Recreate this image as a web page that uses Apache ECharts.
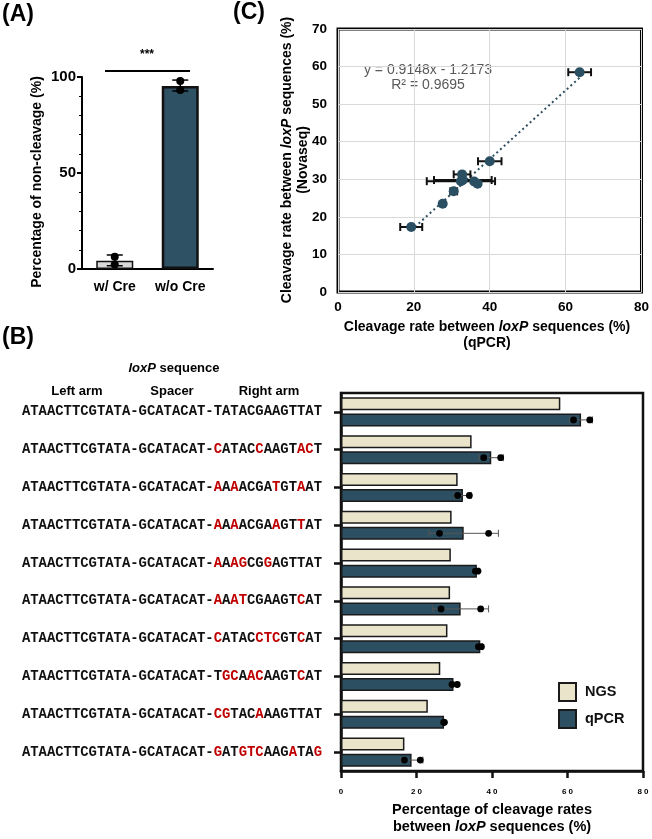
<!DOCTYPE html>
<html><head><meta charset="utf-8">
<script src="https://cdn.jsdelivr.net/npm/echarts@6/dist/echarts.min.js"></script>
<style>html,body{margin:0;padding:0;background:#fff}#c{width:652px;height:839px}</style>
</head><body><div id="c"></div>
<script>
// ---------- Panel A ----------
const aCategories = ['w/ Cre', 'w/o Cre'];
const aMeans = [4.3, 95.3];
const aRep1 = [6.4, 97.9];
const aRep2 = [2.4, 93.2];
const aErrLow = [1.7, 92.7];
const aErrHigh = [7.3, 98.4];

// ---------- Panel C ----------
const cQpcr = [63.7, 40.0, 32.7, 32.4, 35.9, 32.9, 36.8, 30.5, 27.6, 19.3];
const cNgs  = [58.5, 34.8, 31.3, 29.5, 29.4, 29.8, 28.8, 26.8, 23.5, 17.3];
const cXErr = [3.0, 3.1, 2.2, 9.0, 0.4, 7.6, 0.4, 0.9, 0.3, 2.9];
const fitSlope = 0.9148, fitIntercept = -1.2173, fitR2 = 0.9695;

// ---------- Panel B ----------
const leftArm = 'ATAACTTCGTATA';
const spacer = 'GCATACAT';
const rightArms = ['TATACGAAGTTAT','CATACCAAGTACT','AAAACGATGTAAT','AAAACGAAGTTAT','AAAGCGGAGTTAT',
                   'AAATCGAAGTCAT','CATACCTCGTCAT','TGCAACAAGTCAT','CGTACAAAGTTAT','GATGTCAAGATAG'];
const redPositions = [[],[0,5,10,11],[0,2,7,10],[0,2,7,10],[0,2,3,6],[0,2,3,10],[0,5,6,7,10],[1,2,4,5,10],[0,1,5],[0,3,4,5,9,12]];
const ngsValues  = [58.1, 34.6, 30.9, 29.3, 29.1, 28.9, 28.2, 26.3, 23.0, 16.8];
const qpcrValues = [63.6, 39.8, 32.3, 32.5, 36.0, 31.7, 36.9, 29.8, 27.3, 18.7];
const qpcrRep1   = [61.6, 37.8, 30.9, 26.1, 36.3, 26.5, 37.2, 30.8, 27.4, 16.8];
const qpcrRep2   = [65.9, 42.3, 34.0, 39.1, 35.6, 37.0, 36.4, 29.4, 27.2, 21.0];
const qpcrSd     = [3.0, 3.2, 2.2, 9.2, 0.5, 7.4, 0.6, 1.0, 0.1, 3.0];
const bCategories = rightArms.map(r => leftArm + '-' + spacer + '-' + r);

const SANS = '"Liberation Sans", Arial, sans-serif';
const MONO = '"Liberation Mono", "Courier New", monospace';
const TEAL = '#2D4F62';

function seqLabel(v, idx) {
  const arm = rightArms[idx], red = redPositions[idx];
  let out = '{n|' + leftArm + '-' + spacer + '-';
  let cur = 'n';
  for (let i = 0; i < arm.length; i++) {
    const s = red.includes(i) ? 'r' : 'n';
    if (s !== cur) { out += '}{' + s + '|'; cur = s; }
    out += arm[i];
  }
  return out + '}';
}

const chart = echarts.init(document.getElementById('c'), null, {renderer: 'canvas'});

const BAR_OFF = 8; // pixel offset of qPCR bar center from category center

const option = {
  animation: false,
  backgroundColor: '#fff',
  textStyle: {fontFamily: SANS},
  legend: {
    data: ['NGS', 'qPCR'], orient: 'vertical', left: 553, top: 677,
    itemWidth: 17, itemHeight: 18, itemGap: 7, icon: 'rect',
    textStyle: {fontFamily: SANS, fontWeight: 'bold', fontSize: 14.5, color: '#111', padding: [0, 0, 0, 4]}
  },
  grid: [
    {left: 82, top: 77, width: 131, height: 192},
    {left: 338, top: 29, width: 307, height: 263, show: true, borderColor: '#000', borderWidth: 3},
    {left: 341, top: 393, width: 302, height: 378, show: true, borderColor: '#111', borderWidth: 2.5}
  ],
  xAxis: [
    {gridIndex: 0, type: 'category', data: aCategories,
     axisLine: {lineStyle: {color: '#000', width: 2}},
     axisTick: {alignWithLabel: true, length: 6, lineStyle: {color: '#000', width: 2}},
     axisLabel: {interval: 0, color: '#000', fontWeight: 'bold', fontSize: 14, margin: 11, fontFamily: SANS}},
    {gridIndex: 1, type: 'value', min: 0, max: 80, interval: 20,
     splitLine: {lineStyle: {color: '#D9D9D9', width: 1}},
     axisLine: {show: false}, axisTick: {show: false},
     axisLabel: {color: '#000', fontWeight: 'bold', fontSize: 13.5, margin: 8, fontFamily: SANS}},
    {gridIndex: 2, type: 'value', min: 0, max: 80, interval: 20,
     splitLine: {show: false},
     axisLine: {show: true, lineStyle: {color: '#111', width: 2.5}},
     axisTick: {show: true, length: 7, lineStyle: {color: '#111', width: 2.5}},
     axisLabel: {color: '#000', fontWeight: 'bold', fontSize: 8, margin: 17, fontFamily: SANS,
                 formatter: v => String(v).split('').join(' ')}}
  ],
  yAxis: [
    {gridIndex: 0, type: 'value', min: 0, max: 100, interval: 50,
     splitLine: {show: false},
     axisLine: {show: true, lineStyle: {color: '#000', width: 2}},
     axisTick: {show: true, length: 5, lineStyle: {color: '#000', width: 2}},
     minorTick: {show: true, splitNumber: 5, length: 3, lineStyle: {color: '#000', width: 1}},
     axisLabel: {color: '#000', fontWeight: 'bold', fontSize: 15, margin: 6, fontFamily: SANS}},
    {gridIndex: 1, type: 'value', min: 0, max: 70, interval: 10,
     splitLine: {lineStyle: {color: '#D9D9D9', width: 1}},
     axisLine: {show: false}, axisTick: {show: false},
     axisLabel: {color: '#000', fontWeight: 'bold', fontSize: 13.5, margin: 11, fontFamily: SANS}},
    {gridIndex: 2, type: 'category', data: bCategories, inverse: true,
     axisLine: {show: true, lineStyle: {color: '#111', width: 2.5}},
     axisTick: {show: true, alignWithLabel: true, length: 7, lineStyle: {color: '#111', width: 2.5}},
     axisLabel: {interval: 0, margin: 19, formatter: seqLabel,
       rich: {
         n: {fontFamily: MONO, fontWeight: 'bold', fontSize: 13.9, color: '#111'},
         r: {fontFamily: MONO, fontWeight: 'bold', fontSize: 13.9, color: '#C00000'}
       }}}
  ],
  series: [
    // ---- Panel A ----
    {type: 'bar', xAxisIndex: 0, yAxisIndex: 0, barWidth: 37, z: 2,
     data: aMeans.map((v, i) => ({value: v, itemStyle: i === 0
        ? {color: '#D9D9D9', borderColor: '#111', borderWidth: 1.5}
        : {color: '#2E5164', borderColor: '#111', borderWidth: 2.5}}))},
    {type: 'custom', xAxisIndex: 0, yAxisIndex: 0, z: 4,
     data: aMeans.map((v, i) => [i, aErrLow[i], aErrHigh[i]]),
     renderItem: (params, api) => {
       const lo = api.coord([api.value(0), api.value(1)]);
       const hi = api.coord([api.value(0), api.value(2)]);
       const w = 8;
       const st = {stroke: '#000', lineWidth: 1.5};
       return {type: 'group', children: [
         {type: 'line', shape: {x1: lo[0], y1: lo[1], x2: hi[0], y2: hi[1]}, style: st},
         {type: 'line', shape: {x1: lo[0] - w, y1: lo[1], x2: lo[0] + w, y2: lo[1]}, style: st},
         {type: 'line', shape: {x1: hi[0] - w, y1: hi[1], x2: hi[0] + w, y2: hi[1]}, style: st}
       ]};
     }},
    {type: 'scatter', xAxisIndex: 0, yAxisIndex: 0, z: 5, symbolSize: 8,
     itemStyle: {color: '#000', opacity: 1},
     data: aRep1.map((v, i) => [i, v]).concat(aRep2.map((v, i) => [i, v]))},

    // ---- Panel C ----
    {type: 'line', xAxisIndex: 1, yAxisIndex: 1, z: 2, symbol: 'none', silent: true,
     lineStyle: {color: TEAL, width: 2, type: [2, 3]},
     data: (() => {
       const x0 = Math.min(...cQpcr), x1 = Math.max(...cQpcr);
       return [[x0, fitSlope * x0 + fitIntercept], [x1, fitSlope * x1 + fitIntercept]];
     })()},
    {type: 'custom', xAxisIndex: 1, yAxisIndex: 1, z: 3,
     data: cQpcr.map((x, i) => [x - cXErr[i], x + cXErr[i], cNgs[i]]),
     renderItem: (params, api) => {
       const lo = api.coord([api.value(0), api.value(2)]);
       const hi = api.coord([api.value(1), api.value(2)]);
       const h = 4;
       const st = {stroke: '#111', lineWidth: 2};
       return {type: 'group', children: [
         {type: 'line', shape: {x1: lo[0], y1: lo[1], x2: hi[0], y2: hi[1]}, style: st},
         {type: 'line', shape: {x1: lo[0], y1: lo[1] - h, x2: lo[0], y2: lo[1] + h}, style: st},
         {type: 'line', shape: {x1: hi[0], y1: hi[1] - h, x2: hi[0], y2: hi[1] + h}, style: st}
       ]};
     }},
    {type: 'scatter', xAxisIndex: 1, yAxisIndex: 1, z: 4, symbolSize: 10,
     itemStyle: {color: '#2A4E62', opacity: 1},
     data: cQpcr.map((x, i) => [x, cNgs[i]])},

    // ---- Panel B ----
    {name: 'NGS', type: 'bar', xAxisIndex: 2, yAxisIndex: 2, barWidth: 13, barGap: '24%', z: 2,
     itemStyle: {color: '#EAE4CB', borderColor: '#1a1a1a', borderWidth: 1.5},
     data: ngsValues},
    {name: 'qPCR', type: 'bar', xAxisIndex: 2, yAxisIndex: 2, barWidth: 13, barGap: '24%', z: 2,
     itemStyle: {color: TEAL, borderColor: '#1a1a1a', borderWidth: 1.5},
     data: qpcrValues},
    {type: 'custom', xAxisIndex: 2, yAxisIndex: 2, z: 4,
     data: qpcrValues.map((m, i) => [m - qpcrSd[i], m + qpcrSd[i], i, qpcrRep1[i], qpcrRep2[i]]),
     renderItem: (params, api) => {
       const idx = api.value(2);
       const lo = api.coord([api.value(0), idx]);
       const hi = api.coord([api.value(1), idx]);
       const p1 = api.coord([api.value(3), idx]);
       const p2 = api.coord([api.value(4), idx]);
       const y = lo[1] + BAR_OFF;
       const h = 3.5;
       const st = {stroke: '#555', lineWidth: 1};
       return {type: 'group', children: [
         {type: 'line', shape: {x1: lo[0], y1: y, x2: hi[0], y2: y}, style: st},
         {type: 'line', shape: {x1: lo[0], y1: y - h, x2: lo[0], y2: y + h}, style: st},
         {type: 'line', shape: {x1: hi[0], y1: y - h, x2: hi[0], y2: y + h}, style: st},
         {type: 'circle', shape: {cx: p1[0], cy: y, r: 3.4}, style: {fill: '#000'}},
         {type: 'circle', shape: {cx: p2[0], cy: y, r: 3.4}, style: {fill: '#000'}}
       ]};
     }}
  ],
  graphic: [
    // panel labels
    {type: 'text', left: 2, top: 3, style: {text: '(A)', font: 'bold 23px ' + SANS, fill: '#000'}},
    {type: 'text', left: 233, top: 1, style: {text: '(C)', font: 'bold 23px ' + SANS, fill: '#000'}},
    {type: 'text', left: 2, top: 326, style: {text: '(B)', font: 'bold 23px ' + SANS, fill: '#000'}},
    // panel A annotations
    {type: 'line', shape: {x1: 105, y1: 71, x2: 190, y2: 71}, style: {stroke: '#000', lineWidth: 2}},
    {type: 'text', x: 147, y: 55, style: {text: '***', font: 'bold 12px ' + SANS, fill: '#000', textAlign: 'center', textVerticalAlign: 'middle'}},
    {type: 'text', x: 37, y: 182, rotation: Math.PI / 2,
     style: {text: 'Percentage of non-cleavage (%)', font: 'bold 14px ' + SANS, fill: '#000', textAlign: 'center', textVerticalAlign: 'middle'}},
    // panel C annotations
    {type: 'text', x: 428, y: 70, style: {text: 'y = ' + fitSlope + 'x - ' + Math.abs(fitIntercept), font: '14px ' + SANS, fill: '#595959', textAlign: 'center', textVerticalAlign: 'middle'}},
    {type: 'text', x: 428, y: 85, style: {text: 'R\u00b2 = ' + fitR2, font: '14px ' + SANS, fill: '#595959', textAlign: 'center', textVerticalAlign: 'middle'}},
    {type: 'text', x: 487, y: 327, style: {text: '{b|Cleavage rate between }{i|loxP}{b| sequences (%)}', textAlign: 'center', textVerticalAlign: 'middle',
       rich: {b: {font: 'bold 14px ' + SANS, fill: '#000'}, i: {font: 'italic bold 14px ' + SANS, fill: '#000'}}}},
    {type: 'text', x: 487, y: 343, style: {text: '(qPCR)', font: 'bold 14px ' + SANS, fill: '#000', textAlign: 'center', textVerticalAlign: 'middle'}},
    {type: 'text', x: 287, y: 160, rotation: Math.PI / 2,
     style: {text: '{b|Cleavage rate between }{i|loxP}{b| sequences (%)}', textAlign: 'center', textVerticalAlign: 'middle',
       rich: {b: {font: 'bold 14px ' + SANS, fill: '#000'}, i: {font: 'italic bold 14px ' + SANS, fill: '#000'}}}},
    {type: 'text', x: 303, y: 160, rotation: Math.PI / 2,
     style: {text: '(Novaseq)', font: 'bold 14px ' + SANS, fill: '#000', textAlign: 'center', textVerticalAlign: 'middle'}},
    // panel B annotations
    {type: 'text', x: 174, y: 368, style: {text: '{i|loxP}{b| sequence}', textAlign: 'center', textVerticalAlign: 'middle',
       rich: {b: {font: 'bold 13px ' + SANS, fill: '#000'}, i: {font: 'italic bold 13px ' + SANS, fill: '#000'}}}},
    {type: 'text', x: 77, y: 391, style: {text: 'Left arm', font: 'bold 13px ' + SANS, fill: '#000', textAlign: 'center', textVerticalAlign: 'middle'}},
    {type: 'text', x: 172, y: 391, style: {text: 'Spacer', font: 'bold 13px ' + SANS, fill: '#000', textAlign: 'center', textVerticalAlign: 'middle'}},
    {type: 'text', x: 269, y: 391, style: {text: 'Right arm', font: 'bold 13px ' + SANS, fill: '#000', textAlign: 'center', textVerticalAlign: 'middle'}},
    {type: 'text', x: 492, y: 810, style: {text: 'Percentage of cleavage rates', font: 'bold 14.5px ' + SANS, fill: '#000', textAlign: 'center', textVerticalAlign: 'middle'}},
    {type: 'text', x: 492, y: 827, style: {text: '{b|between }{i|loxP}{b| sequences (%)}', textAlign: 'center', textVerticalAlign: 'middle',
       rich: {b: {font: 'bold 14.5px ' + SANS, fill: '#000'}, i: {font: 'italic bold 14.5px ' + SANS, fill: '#000'}}}}
  ]
};
chart.setOption(option);
</script>
</body></html>
